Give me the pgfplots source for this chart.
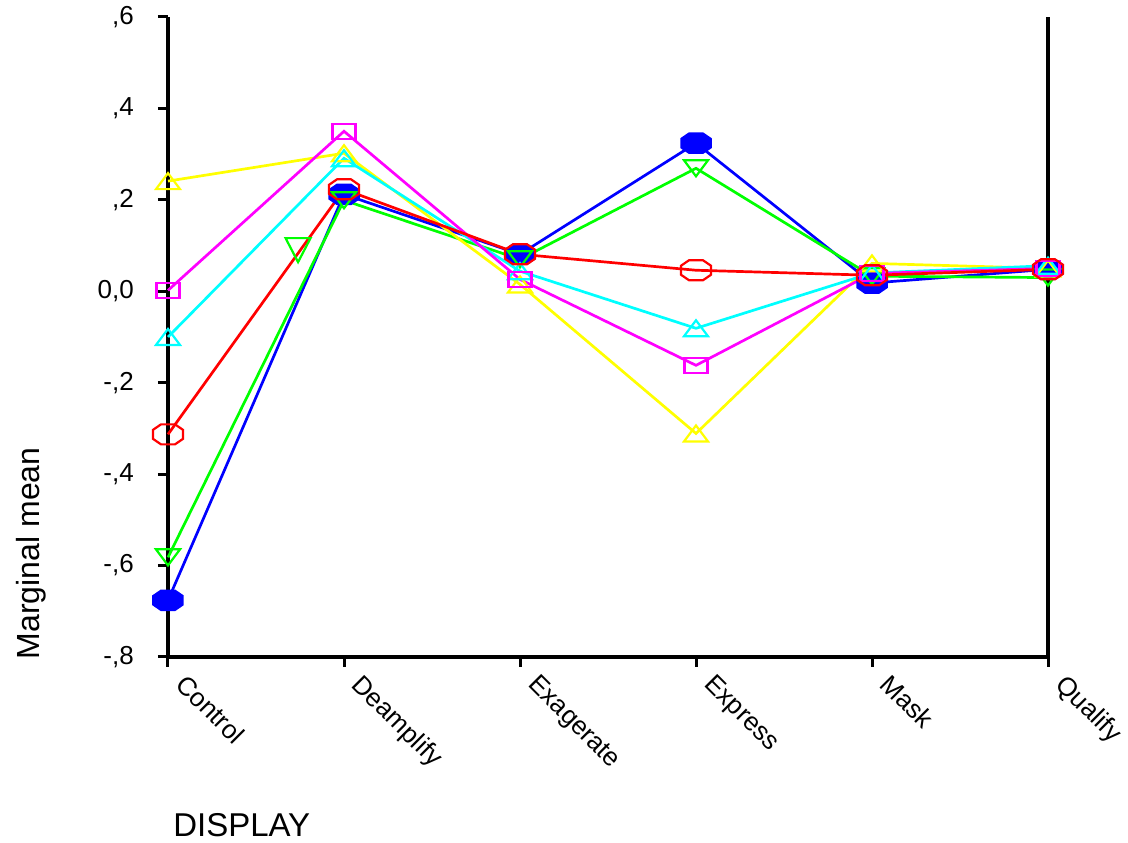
\documentclass[border=0pt]{standalone}
\usepackage{pgfplots}
\pgfplotsset{compat=1.18}
\usepackage{fontspec}
\setmainfont{Liberation Sans}

\pgfdeclareplotmark{oct}{%
\pgfpathmoveto{\pgfqpoint{7pt}{10pt}}%
\pgfpathlineto{\pgfqpoint{15pt}{4.5pt}}%
\pgfpathlineto{\pgfqpoint{15pt}{-4.5pt}}%
\pgfpathlineto{\pgfqpoint{7pt}{-10pt}}%
\pgfpathlineto{\pgfqpoint{-7pt}{-10pt}}%
\pgfpathlineto{\pgfqpoint{-15pt}{-4.5pt}}%
\pgfpathlineto{\pgfqpoint{-15pt}{4.5pt}}%
\pgfpathlineto{\pgfqpoint{-7pt}{10pt}}%
\pgfpathclose\pgfusepathqstroke}
\pgfdeclareplotmark{oct*}{%
\pgfpathmoveto{\pgfqpoint{7pt}{10pt}}%
\pgfpathlineto{\pgfqpoint{15pt}{4.5pt}}%
\pgfpathlineto{\pgfqpoint{15pt}{-4.5pt}}%
\pgfpathlineto{\pgfqpoint{7pt}{-10pt}}%
\pgfpathlineto{\pgfqpoint{-7pt}{-10pt}}%
\pgfpathlineto{\pgfqpoint{-15pt}{-4.5pt}}%
\pgfpathlineto{\pgfqpoint{-15pt}{4.5pt}}%
\pgfpathlineto{\pgfqpoint{-7pt}{10pt}}%
\pgfpathclose\pgfusepathqfillstroke}
\pgfdeclareplotmark{rect}{%
\pgfpathrectangle{\pgfqpoint{-11.5pt}{-7.5pt}}{\pgfqpoint{23pt}{15pt}}\pgfusepathqstroke}
\pgfdeclareplotmark{tup}{%
\pgfpathmoveto{\pgfqpoint{0pt}{8pt}}%
\pgfpathlineto{\pgfqpoint{12pt}{-8pt}}%
\pgfpathlineto{\pgfqpoint{-12pt}{-8pt}}%
\pgfpathclose\pgfusepathqstroke}
\pgfdeclareplotmark{tdown}{%
\pgfpathmoveto{\pgfqpoint{0pt}{-8pt}}%
\pgfpathlineto{\pgfqpoint{12pt}{8pt}}%
\pgfpathlineto{\pgfqpoint{-12pt}{8pt}}%
\pgfpathclose\pgfusepathqstroke}
\pgfdeclareplotmark{bigtdown}{%
\pgfpathmoveto{\pgfqpoint{0pt}{-12pt}}%
\pgfpathlineto{\pgfqpoint{12.5pt}{12pt}}%
\pgfpathlineto{\pgfqpoint{-12.5pt}{12pt}}%
\pgfpathclose\pgfusepathqstroke}

\definecolor{sblue}{RGB}{0,0,255}
\definecolor{sgreen}{RGB}{0,255,0}
\definecolor{syellow}{RGB}{255,255,0}
\definecolor{scyan}{RGB}{0,255,255}
\definecolor{smagenta}{RGB}{255,0,255}
\definecolor{sred}{RGB}{255,0,0}

\begin{document}
\begin{tikzpicture}
\begin{axis}[name=ax, scale only axis, width=880pt, height=640pt,
  xmin=0, xmax=5, ymin=-0.8, ymax=0.6,
  axis lines*=left, axis line style={line width=3.5pt, -},
  xtick={0,1,2,3,4,5},
  xticklabels={Control,Deamplify,Exagerate,Express,Mask,Qualify},
  ytick={-0.8,-0.6,-0.4,-0.2,0,0.2,0.4,0.6},
  yticklabels={{-,8},{-,6},{-,4},{-,2},{0,0},{,2},{,4},{,6}},
  tick align=outside, major tick length=10pt,
  tick style={line width=3pt, black},
  tick label style={font=\fontsize{26}{30}\selectfont},
  xticklabel style={xshift=20pt, yshift=3pt, rotate=-45, anchor=north west, inner sep=6pt},
  yticklabel style={xshift=-12pt, inner sep=12pt},
  xlabel={DISPLAY}, ylabel={Marginal mean},
  xlabel style={font=\fontsize{33}{38}\selectfont, at={(axis description cs:0.002,-0.262)}, anchor=west},
  ylabel style={font=\fontsize{32}{36}\selectfont, at={(axis description cs:-0.155,0.162)}, anchor=center},
  clip=false,
  every axis plot/.append style={line width=2.7pt},
]
\addplot[sblue, mark=oct*, mark options={line width=1.5pt, fill=sblue}] coordinates {
  (0,-0.676) (1,0.212) (2,0.081) (3,0.324) (4,0.018) (5,0.048)};
\addplot[sgreen, mark=tdown, mark options={line width=2.2pt}] coordinates {
  (0,-0.582) (1,0.199) (2,0.070) (3,0.269) (4,0.033) (5,0.030)};
\addplot[sgreen, only marks, mark=bigtdown, mark options={line width=2.2pt}] coordinates {
  (0.739,0.09)};
\addplot[syellow, mark=tup, mark options={line width=2.2pt}] coordinates {
  (0,0.241) (1,0.302) (2,0.015) (3,-0.311) (4,0.061) (5,0.050)};
\addplot[scyan, mark=tup, mark options={line width=2.2pt}] coordinates {
  (0,-0.100) (1,0.291) (2,0.044) (3,-0.081) (4,0.040) (5,0.056)};
\addplot[smagenta, mark=rect, mark options={line width=2.2pt}] coordinates {
  (0,0.002) (1,0.350) (2,0.026) (3,-0.162) (4,0.039) (5,0.050)};
\addplot[sred, mark=oct, mark options={line width=2.2pt}] coordinates {
  (0,-0.313) (1,0.223) (2,0.081) (3,0.046) (4,0.035) (5,0.048)};
\draw[line width=3.5pt] (rel axis cs:1,0) -- (rel axis cs:1,1);
\end{axis}
\pgfresetboundingbox
\path ([shift={(-168pt,-186pt)}]ax.south west) rectangle ([shift={(80pt,17pt)}]ax.north east);
\end{tikzpicture}
\end{document}
